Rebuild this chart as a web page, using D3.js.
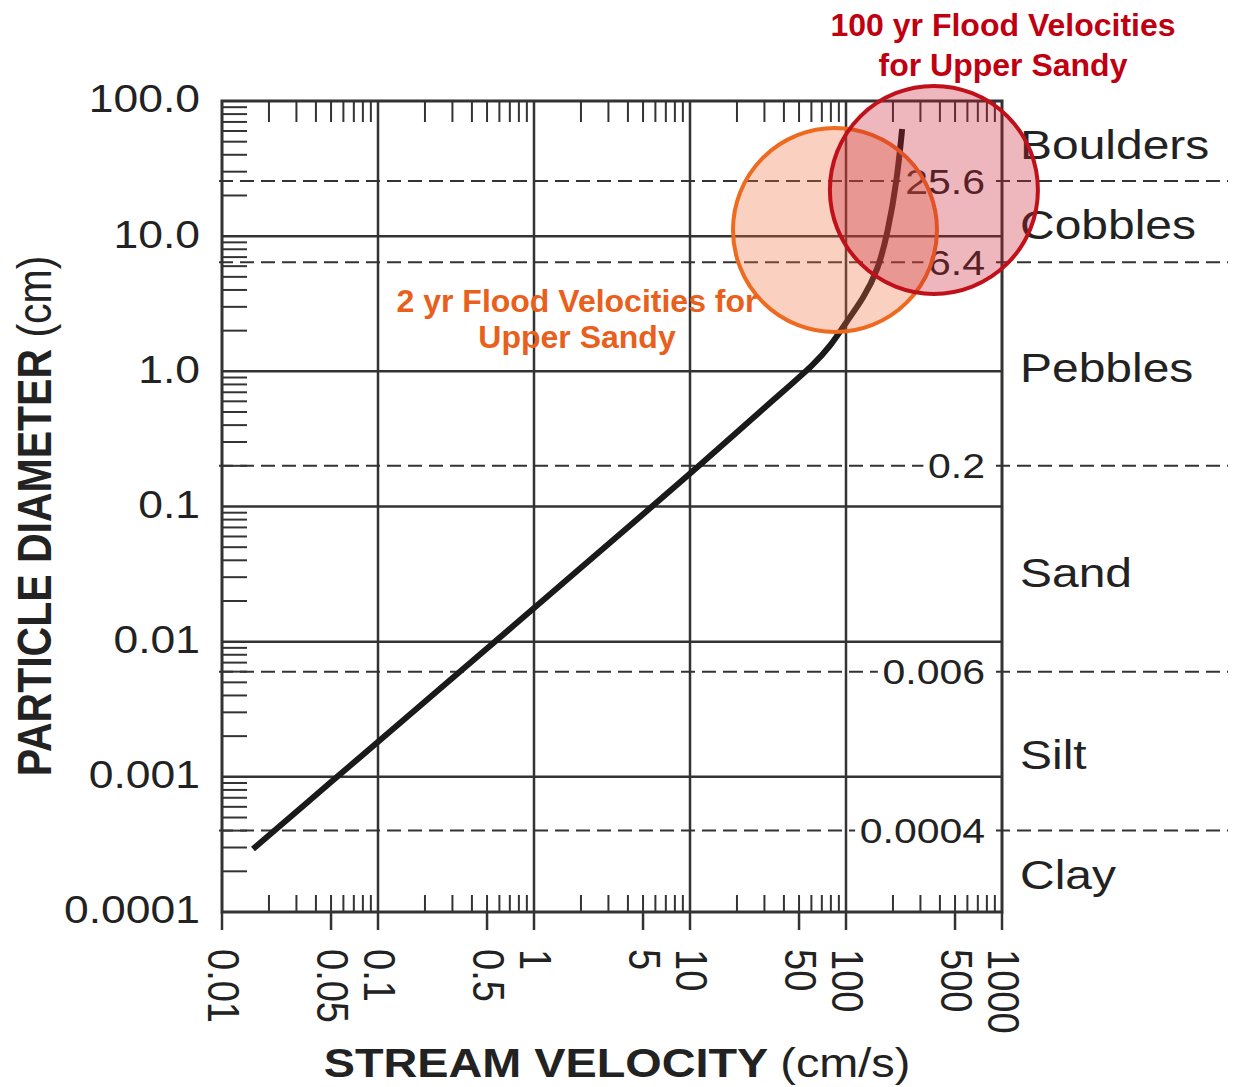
<!DOCTYPE html>
<html>
<head>
<meta charset="utf-8">
<script src="https://cdn.jsdelivr.net/npm/d3@7"></script>
<style>
  body { margin: 0; background: #fff; }
  text { font-family: "Liberation Sans", Arial, sans-serif; fill: #222; }
</style>
</head>
<body>
<div id="chart"></div>
<script>
// axis ticks
var velocityTicks = [0.01, 0.05, 0.1, 0.5, 1, 5, 10, 50, 100, 500, 1000];
var velocityTickLabels = ['0.01', '0.05', '0.1', '0.5', '1', '5', '10', '50', '100', '500', '1000'];
var diameterTicks = [100, 10, 1, 0.1, 0.01, 0.001, 0.0001];
var diameterTickLabels = ['100.0', '10.0', '1.0', '0.1', '0.01', '0.001', '0.0001'];

// grain size classes
var boundaryValues = [25.6, 6.4, 0.2, 0.006, 0.0004];
var boundaryLabels = ['25.6', '6.4', '0.2', '0.006', '0.0004'];
var sizeClasses = ['Boulders', 'Cobbles', 'Pebbles', 'Sand', 'Silt', 'Clay'];
var classEdges = [100, 25.6, 6.4, 0.2, 0.006, 0.0004, 0.0001];

// erosion curve (cm/s vs cm)
var curveVelocity = [0.0158, 0.0546, 0.1, 0.562, 1, 5.71, 10.3, 40, 62, 80, 100, 130, 160, 185, 212, 229];
var curveDiameter = [0.000292, 0.001, 0.00181, 0.01, 0.0177, 0.1, 0.18, 0.72, 1.12, 1.55, 2.3, 3.5, 5.6, 10.5, 25.6, 62];

// flood velocity zones
var floodNames = ['2 yr', '100 yr'];
var floodVelocity = [85, 366];
var floodDiameter = [11.1, 22];

var width = 1235, height = 1087;
var SX = 1.17; // the source picture is stretched sideways

var svg = d3.select('#chart').append('svg')
  .attr('width', width)
  .attr('height', height);

var x = d3.scaleLog().domain([0.01, 1000]).range([222, 1002]);
var y = d3.scaleLog().domain([0.0001, 100]).range([912, 101]);

function stretchText(parent, px, py, str, angle) {
  var g = parent.append('g')
    .attr('transform', 'translate(' + px + ',' + py + ') scale(' + SX + ',1)');
  var t = g.append('text').text(str);
  if (angle) t.attr('transform', 'rotate(' + angle + ')');
  return t;
}

function minorTicks(lo, hi) {
  var out = [];
  for (var e = lo; e < hi; e++) {
    for (var k = 2; k <= 9; k++) out.push(k * Math.pow(10, e));
  }
  return out;
}

var lineColor = '#333';

// grid lines at decades
svg.append('g').selectAll('line')
  .data([0.1, 1, 10, 100])
  .enter().append('line')
  .attr('x1', function(d) { return x(d); })
  .attr('x2', function(d) { return x(d); })
  .attr('y1', y(100)).attr('y2', y(0.0001))
  .attr('stroke', lineColor).attr('stroke-width', 2.5);

svg.append('g').selectAll('line')
  .data([10, 1, 0.1, 0.01, 0.001])
  .enter().append('line')
  .attr('x1', x(0.01)).attr('x2', x(1000))
  .attr('y1', function(d) { return y(d); })
  .attr('y2', function(d) { return y(d); })
  .attr('stroke', lineColor).attr('stroke-width', 2.5);

// class boundaries
svg.append('g').selectAll('line')
  .data(boundaryValues)
  .enter().append('line')
  .attr('x1', x(0.01) - 3).attr('x2', 1228)
  .attr('y1', function(d) { return y(d); })
  .attr('y2', function(d) { return y(d); })
  .attr('stroke', lineColor).attr('stroke-width', 2)
  .attr('stroke-dasharray', '14,7');

var bLabels = svg.append('g');
boundaryValues.forEach(function(v, i) {
  var t = stretchText(bLabels, x(1000) - 17, y(v), boundaryLabels[i])
    .attr('text-anchor', 'end')
    .attr('dy', '0.36em')
    .style('font-size', '35px');
  var bb = t.node().getBBox();
  t.node().parentNode.insertBefore(
    d3.create('svg:rect')
      .attr('x', bb.x - 4).attr('y', bb.y + 3)
      .attr('width', bb.width + 8).attr('height', bb.height - 6)
      .attr('fill', '#fff').node(),
    t.node());
});

// minor ticks
var minorY = minorTicks(-4, 2);
svg.append('g').selectAll('line')
  .data(minorY)
  .enter().append('line')
  .attr('x1', x(0.01)).attr('x2', x(0.01) + 25)
  .attr('y1', function(d) { return y(d); })
  .attr('y2', function(d) { return y(d); })
  .attr('stroke', lineColor).attr('stroke-width', 2);

var minorX = minorTicks(-2, 3);
svg.append('g').selectAll('line')
  .data(minorX)
  .enter().append('line')
  .attr('x1', function(d) { return x(d); })
  .attr('x2', function(d) { return x(d); })
  .attr('y1', y(100)).attr('y2', y(100) + 21)
  .attr('stroke', lineColor).attr('stroke-width', 2);

svg.append('g').selectAll('line')
  .data(minorX)
  .enter().append('line')
  .attr('x1', function(d) { return x(d); })
  .attr('x2', function(d) { return x(d); })
  .attr('y1', y(0.0001)).attr('y2', y(0.0001) - 17)
  .attr('stroke', lineColor).attr('stroke-width', 2);

// labelled ticks below the x axis
svg.append('g').selectAll('line')
  .data(velocityTicks)
  .enter().append('line')
  .attr('x1', function(d) { return x(d); })
  .attr('x2', function(d) { return x(d); })
  .attr('y1', y(0.0001)).attr('y2', y(0.0001) + 18)
  .attr('stroke', lineColor).attr('stroke-width', 2.5);

// frame
svg.append('rect')
  .attr('x', x(0.01)).attr('y', y(100))
  .attr('width', x(1000) - x(0.01))
  .attr('height', y(0.0001) - y(100))
  .attr('fill', 'none')
  .attr('stroke', lineColor).attr('stroke-width', 3);

// tick labels
var xl = svg.append('g');
velocityTicks.forEach(function(v, i) {
  stretchText(xl, x(v) + 2, 949, velocityTickLabels[i], 90)
    .attr('dy', '0.36em')
    .style('font-size', '38px');
});

var yl = svg.append('g');
diameterTicks.forEach(function(v, i) {
  stretchText(yl, 200, y(v), diameterTickLabels[i])
    .attr('text-anchor', 'end')
    .attr('dy', '0.3em')
    .style('font-size', '38px');
});

// axis titles
var yt = stretchText(svg, 34, 516, null, -90)
  .attr('text-anchor', 'middle')
  .attr('dy', '0.36em')
  .style('font-size', '41px');
yt.append('tspan').style('font-weight', 'bold').text('PARTICLE DIAMETER ');
yt.append('tspan').text('(cm)');

var xt = stretchText(svg, 617, 1077, null)
  .attr('text-anchor', 'middle')
  .style('font-size', '40px');
xt.append('tspan').style('font-weight', 'bold').text('STREAM VELOCITY ');
xt.append('tspan').text('(cm/s)');

// size class names
var cl = svg.append('g');
sizeClasses.forEach(function(name, i) {
  var mid = Math.sqrt(classEdges[i] * classEdges[i + 1]);
  stretchText(cl, 1020, y(mid) + 3, name)
    .attr('dy', '0.36em')
    .style('font-size', '41px');
});

// curve
var curvePts = curveVelocity.map(function(v, i) { return [v, curveDiameter[i]]; });
var line = d3.line()
  .x(function(d) { return x(d[0]); })
  .y(function(d) { return y(d[1]); })
  .curve(d3.curveBasis);

svg.append('path')
  .attr('d', line(curvePts))
  .attr('fill', 'none')
  .attr('stroke', '#1a1a1a')
  .attr('stroke-width', 6);

// flood circles
var floodFill = ['rgba(240,110,60,0.32)', 'rgba(200,30,50,0.32)'];
var floodStroke = ['#ee6a1e', '#c0101a'];
var floodRadius = [102, 104];
svg.append('g').selectAll('circle')
  .data(floodNames)
  .enter().append('circle')
  .attr('cx', function(d, i) { return x(floodVelocity[i]); })
  .attr('cy', function(d, i) { return y(floodDiameter[i]); })
  .attr('r', function(d, i) { return floodRadius[i]; })
  .attr('fill', function(d, i) { return floodFill[i]; })
  .attr('stroke', function(d, i) { return floodStroke[i]; })
  .attr('stroke-width', 4);

// annotation text
var ann2 = svg.append('text')
  .attr('text-anchor', 'middle')
  .style('font-size', '32px').style('font-weight', 'bold')
  .style('fill', '#e8601c');
ann2.append('tspan').attr('x', 577).attr('y', 312).text(floodNames[0] + ' Flood Velocities for');
ann2.append('tspan').attr('x', 577).attr('y', 348).text('Upper Sandy');

var ann100 = svg.append('text')
  .attr('text-anchor', 'middle')
  .style('font-size', '32px').style('font-weight', 'bold')
  .style('fill', '#c00010');
ann100.append('tspan').attr('x', 1003).attr('y', 36).text(floodNames[1] + ' Flood Velocities');
ann100.append('tspan').attr('x', 1003).attr('y', 76).text('for Upper Sandy');
</script>
</body>
</html>
